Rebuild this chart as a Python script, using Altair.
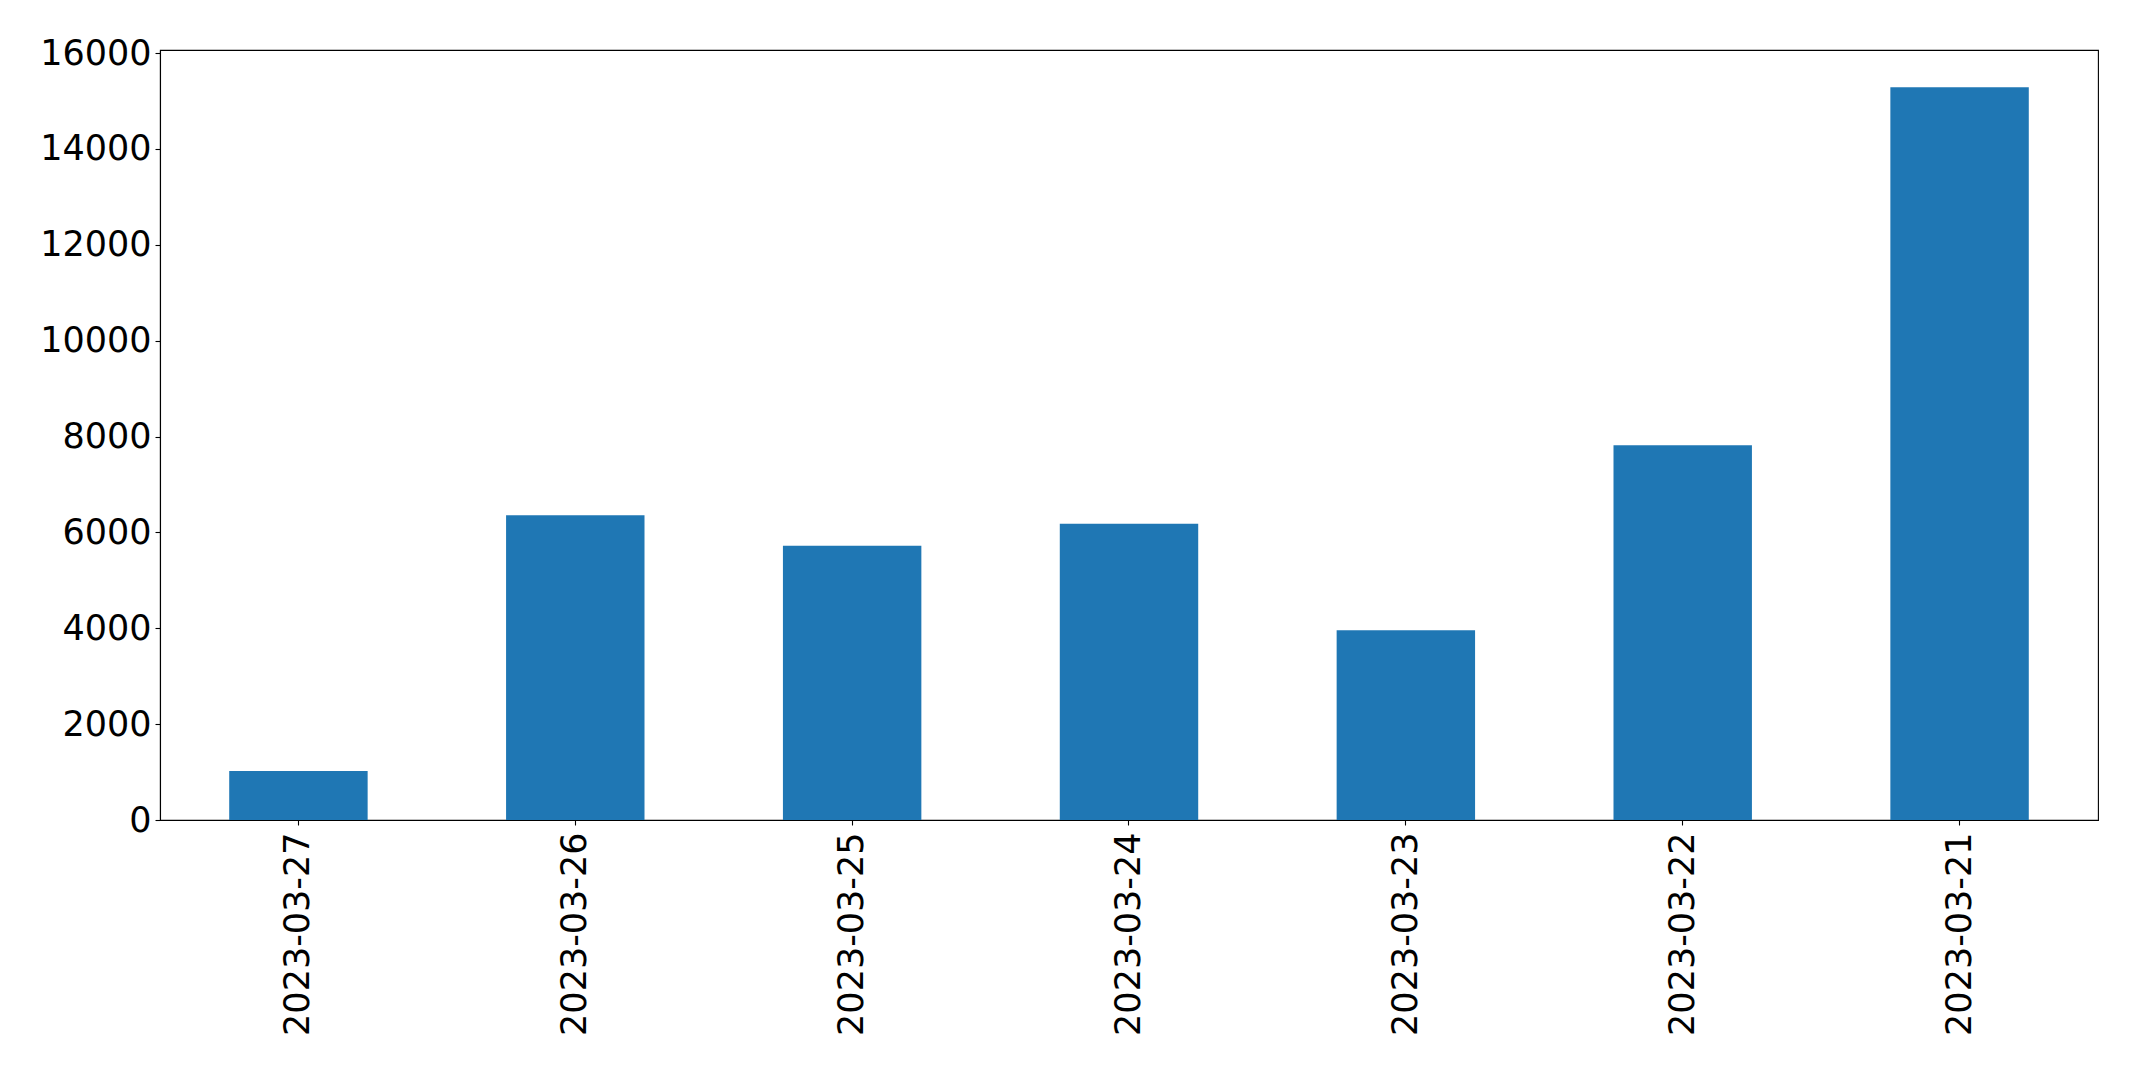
import altair as alt
import pandas as pd

dates = ["2023-03-27", "2023-03-26", "2023-03-25", "2023-03-24",
         "2023-03-23", "2023-03-22", "2023-03-21"]
counts = [1020, 6360, 5720, 6180, 3960, 7820, 15290]
y_ticks = [0, 2000, 4000, 6000, 8000, 10000, 12000, 14000, 16000]

df = pd.DataFrame({"date": dates, "count": counts})

FONT = "DejaVu Sans"
FS = 35

chart = alt.Chart(df).mark_bar(color="#1f77b4").encode(
    x=alt.X("date:N", sort=dates, title=None,
            scale=alt.Scale(paddingInner=0.5, paddingOuter=0.25),
            axis=alt.Axis(labelAngle=270, labelFont=FONT, labelFontSize=FS,
                          labelColor="black", tickColor="black", tickSize=5,
                          tickWidth=1.1, labelPadding=7, domainColor="black",
                          domainWidth=1.1, grid=False, labelLimit=0)),
    y=alt.Y("count:Q", title=None,
            scale=alt.Scale(domain=[0, 16065], nice=False, zero=True),
            axis=alt.Axis(values=y_ticks, labelFont=FONT, labelFontSize=FS,
                          labelColor="black", tickColor="black", tickSize=5,
                          tickWidth=1.1, labelPadding=4, domainColor="black",
                          domainWidth=1.1, grid=False, labelFlush=False,
                          format="d")),
).properties(
    width=1938, height=770,
    autosize=alt.AutoSizeParams(type="none"),
    padding={"left": 152, "top": 42, "right": 30, "bottom": 240},
).configure_view(
    stroke="black", strokeWidth=1.1
)

chart.save("out.html", embed_options={"renderer": "svg", "actions": False})
